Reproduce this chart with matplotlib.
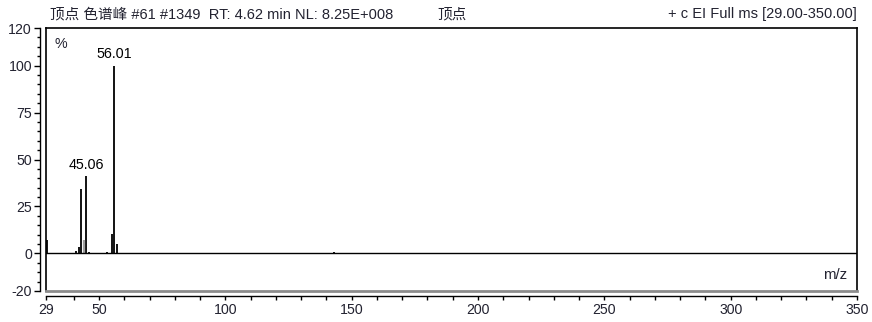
import matplotlib
matplotlib.use("Agg")
import matplotlib.pyplot as plt
from matplotlib.lines import Line2D
from matplotlib.ticker import FixedLocator, MultipleLocator

plt.rcParams['font.family'] = ['Liberation Sans', 'Noto Sans CJK SC', 'DejaVu Sans']
plt.rcParams['axes.unicode_minus'] = False

# EI mass spectrum peaks (m/z, relative abundance %)
mz = [29.2, 41, 42, 43, 45, 46, 53, 55, 56, 57, 143]
intensity = [7.2, 1.2, 3.5, 34.2, 41.0, 1.0, 0.5, 10.3, 100.0, 5.0, 0.6]
gray_mz = [44]
gray_intensity = [6.9]

labeled_mz = [45.06, 56.01]
labeled_int = [41.0, 100.0]

title_left = "顶点 色谱峰 #61 #1349  RT: 4.62 min NL: 8.25E+008"
title_mid = "顶点"
title_right = "+ c EI Full ms [29.00-350.00]"

x_major = [29, 50, 100, 150, 200, 250, 300, 350]
y_major = [-20, 0, 25, 50, 75, 100, 120]

W, H = 872, 322
fig = plt.figure(figsize=(W / 100, H / 100), dpi=100)
ax = fig.add_axes([46 / W, 1 - 291 / H, (857 - 46) / W, (291 - 28) / H])

ax.set_xlim(29, 350)
ax.set_ylim(-20, 120)

txt = '#222230'

# spectrum sticks
ax.vlines(mz, 0, intensity, color='black', lw=1.3)
ax.vlines(gray_mz, 0, gray_intensity, color='#a0a0a0', lw=1.6)
ax.axhline(0, color='black', lw=1.0)

for m, v in zip(labeled_mz, labeled_int):
    ax.text(m, v + 2.5, f"{m:.2f}", ha='center', va='bottom', fontsize=10.3, color='black')

ax.text(0.011, 0.965, "%", transform=ax.transAxes, ha='left', va='top', fontsize=10.3, color=txt)
ax.text(0.988, 0.035, "m/z", transform=ax.transAxes, ha='right', va='bottom', fontsize=10.8, color=txt)

# spines offset from the plot frame
for s in ('top', 'right'):
    ax.spines[s].set_visible(False)
ax.spines['left'].set_position(('outward', 4.3))
ax.spines['bottom'].set_position(('outward', 3.6))
ax.spines['left'].set_linewidth(1.0)
ax.spines['bottom'].set_linewidth(1.0)

# plot frame
tr = ax.transAxes
ax.add_line(Line2D([0, 0], [0, 1], transform=tr, color='black', lw=1.2, clip_on=False))
ax.add_line(Line2D([0, 1], [1, 1], transform=tr, color='black', lw=1.2, clip_on=False))
ax.add_line(Line2D([1, 1], [0, 1], transform=tr, color='black', lw=1.2, clip_on=False))
ax.add_line(Line2D([0, 1], [0, 0], transform=tr, color='#8c8c8c', lw=2.0, clip_on=False))

ax.xaxis.set_major_locator(FixedLocator(x_major))
ax.xaxis.set_minor_locator(FixedLocator([v for v in range(40, 350, 10) if v % 50 != 0]))
ax.yaxis.set_major_locator(FixedLocator(y_major))
ax.yaxis.set_minor_locator(MultipleLocator(5))

ax.tick_params(axis='x', which='both', direction='out', length=3.2, width=1.0,
               labelsize=10.2, labelcolor=txt, pad=1.5)
ax.tick_params(axis='y', which='major', direction='out', length=4.3, width=1.0,
               labelsize=10.2, labelcolor=txt, pad=1.5)
ax.tick_params(axis='y', which='minor', direction='out', length=2.2, width=1.0)

fig.text(50 / W, 1 - 14 / H, title_left, ha='left', va='center', fontsize=10.5, color=txt)
fig.text(437 / W, 1 - 14 / H, title_mid, ha='left', va='center', fontsize=10.5, color=txt)
fig.text(857 / W, 1 - 14 / H, title_right, ha='right', va='center', fontsize=10.5, color=txt)

fig.savefig("out.png", dpi=100)
